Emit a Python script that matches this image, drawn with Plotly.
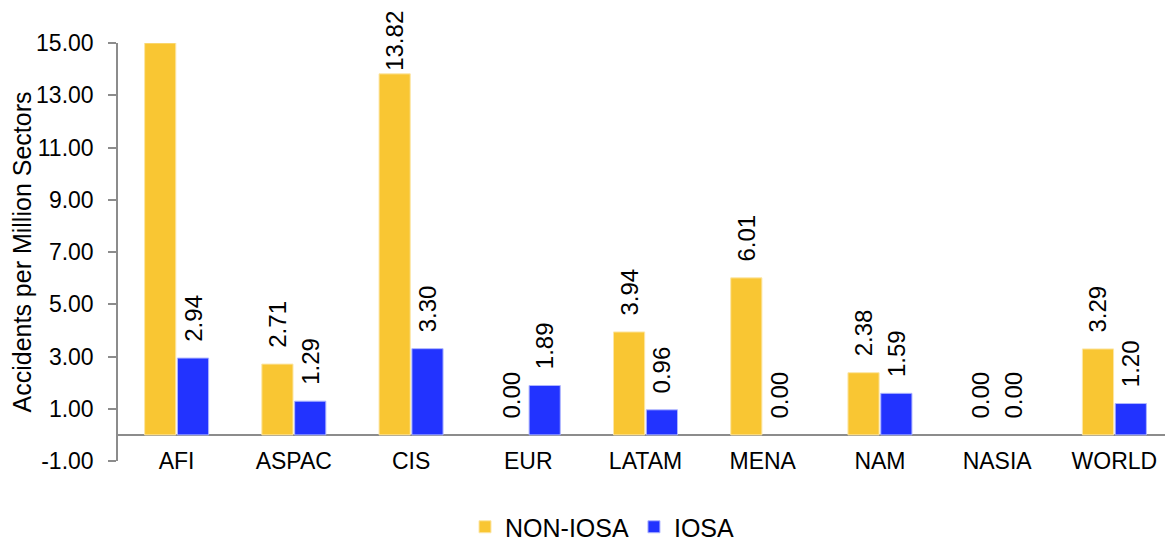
import plotly.graph_objects as go

regions = ["AFI", "ASPAC", "CIS", "EUR", "LATAM", "MENA", "NAM", "NASIA", "WORLD"]
non_iosa = [15.0, 2.71, 13.82, 0.00, 3.94, 6.01, 2.38, 0.00, 3.29]
iosa = [2.94, 1.29, 3.30, 1.89, 0.96, 0.00, 1.59, 0.00, 1.20]
y_ticks = [-1, 1, 3, 5, 7, 9, 11, 13, 15]

Y_MAX = 15
font = "Liberation Sans, Arial, sans-serif"
NBSP = "\u00a0"

# the page body has an 8px default margin, so the figure is drawn 8px in from the window edge
W, H = 1165, 535


def labels(vals):
    # leading non-breaking spaces lift the rotated label off the bar top (as in the source chart)
    return [(NBSP * 2 if v < 12 else "") + f"{v:.2f}" for v in vals]


def positions(vals):
    return ["none" if v >= Y_MAX else "outside" for v in vals]


def outline(vals):
    return [0 if v == 0 else 1 for v in vals]


fig = go.Figure()
fig.add_trace(go.Bar(
    x=regions, y=non_iosa, name="NON-IOSA",
    marker=dict(color="#F9C633", line=dict(color="#FCE6A6", width=outline(non_iosa))),
    text=labels(non_iosa), textposition=positions(non_iosa), textangle=-90,
    constraintext="none",
    textfont=dict(size=24, color="black", family=font), cliponaxis=False,
))
fig.add_trace(go.Bar(
    x=regions, y=iosa, name="IOSA",
    marker=dict(color="#2233FF", line=dict(color="#AEB5FF", width=outline(iosa))),
    text=labels(iosa), textposition=positions(iosa), textangle=-90,
    constraintext="none",
    textfont=dict(size=24, color="black", family=font), cliponaxis=False,
))

fig.update_layout(
    width=W, height=H,
    margin=dict(l=110, r=0, t=35, b=82, autoexpand=False),
    paper_bgcolor="white", plot_bgcolor="white",
    font=dict(family=font, size=23, color="black"),
    barmode="group", bargap=0.44, bargroupgap=0.05,
    showlegend=True,
    legend=dict(orientation="h", xref="container", yref="container",
                x=457 / W, xanchor="left", y=16 / H, yanchor="middle",
                font=dict(size=25), itemwidth=30, tracegroupgap=0),
)
fig.update_yaxes(
    range=[-1, Y_MAX], tickvals=y_ticks, ticktext=[f"{v:.2f}" for v in y_ticks],
    automargin=False,
    showgrid=False, showline=True, linecolor="#8C8C8C", linewidth=1.5,
    ticks="outside", ticklen=8, tickcolor="#8C8C8C", tickwidth=1.5,
    ticklabelstandoff=10,
    zeroline=True, zerolinecolor="#8C8C8C", zerolinewidth=1.5,
    title=dict(text="Accidents per Million Sectors", font=dict(size=25), standoff=4),
    tickfont=dict(size=23),
)
fig.update_xaxes(showgrid=False, showline=False, ticks="", automargin=False,
                 tickfont=dict(size=23), ticklabelstandoff=-16)

fig.write_html("out.html")
